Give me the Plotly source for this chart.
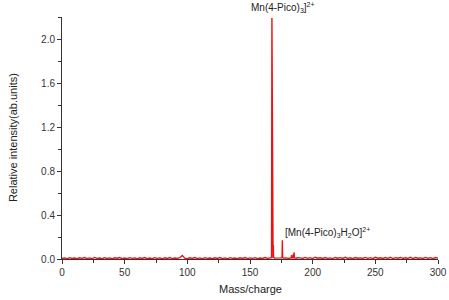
import plotly.graph_objects as go

# Baseline noise samples (every 2 units of mass/charge)
base_mz_left = [0, 2, 4, 6, 8, 10, 12, 14, 16, 18, 20, 22, 24, 26, 28, 30, 32, 34, 36, 38,
                40, 42, 44, 46, 48, 50, 52, 54, 56, 58, 60, 62, 64, 66, 68, 70, 72, 74, 76, 78,
                80, 82, 84, 86, 88, 90, 92, 94, 96, 98, 100, 102, 104, 106, 108, 110, 112, 114,
                116, 118, 120, 122, 124, 126, 128, 130, 132, 134, 136, 138, 140, 142, 144, 146,
                148, 150, 152, 154, 156, 158, 160, 162, 164]
base_int_left = [0.004, 0.010, 0.002, 0.012, 0.005, 0.009, 0.003, 0.011, 0.006, 0.013, 0.004,
                 0.010, 0.002, 0.014, 0.006, 0.009, 0.003, 0.012, 0.005, 0.010, 0.002, 0.011,
                 0.007, 0.013, 0.004, 0.009, 0.003, 0.012, 0.006, 0.010, 0.002, 0.011, 0.005,
                 0.013, 0.004, 0.009, 0.003, 0.012, 0.006, 0.010, 0.002, 0.011, 0.005, 0.013,
                 0.004, 0.009, 0.006, 0.012, 0.032, 0.008, 0.003, 0.011, 0.005, 0.013, 0.004,
                 0.010, 0.002, 0.012, 0.006, 0.009, 0.003, 0.011, 0.005, 0.013, 0.004, 0.010,
                 0.002, 0.012, 0.006, 0.009, 0.003, 0.011, 0.005, 0.013, 0.004, 0.010, 0.006,
                 0.012, 0.003, 0.009, 0.005, 0.013, 0.006]
base_mz_right = [190, 192, 194, 196, 198, 200, 202, 204, 206, 208, 210, 212, 214, 216, 218,
                 220, 222, 224, 226, 228, 230, 232, 234, 236, 238, 240, 242, 244, 246, 248,
                 250, 252, 254, 256, 258, 260, 262, 264, 266, 268, 270, 272, 274, 276, 278,
                 280, 282, 284, 286, 288, 290, 292, 294, 296, 298, 300]
base_int_right = [0.010, 0.005, 0.014, 0.006, 0.012, 0.004, 0.016, 0.007, 0.011, 0.005, 0.013,
                  0.006, 0.010, 0.004, 0.014, 0.007, 0.012, 0.005, 0.015, 0.006, 0.011, 0.004,
                  0.013, 0.007, 0.010, 0.005, 0.014, 0.006, 0.012, 0.004, 0.015, 0.007, 0.011,
                  0.005, 0.013, 0.006, 0.016, 0.004, 0.012, 0.007, 0.014, 0.005, 0.011, 0.006,
                  0.015, 0.004, 0.013, 0.007, 0.010, 0.005, 0.014, 0.006, 0.012, 0.004, 0.013,
                  0.008]

# Main peak region
peak_mz = [166.0, 167.2, 167.5, 167.8, 168.4, 168.6, 168.8, 169.6, 172.0, 174.5, 175.6,
           175.8, 176.0, 176.8, 178.5, 181.0, 182.5, 183.0, 183.2, 183.4, 184.4, 184.6,
           184.8, 185.0, 185.2, 185.4, 187.0, 188.0]
peak_int = [0.008, 0.012, 2.19, 0.015, 0.012, 0.127, 0.015, 0.008, 0.006, 0.010, 0.012,
            0.170, 0.012, 0.008, 0.010, 0.006, 0.010, 0.012, 0.035, 0.010, 0.012, 0.045,
            0.015, 0.012, 0.060, 0.010, 0.007, 0.012]

pts = sorted(zip(base_mz_left + peak_mz + base_mz_right,
                 base_int_left + peak_int + base_int_right))
mz = [p[0] for p in pts]
inten = [p[1] for p in pts]

fig = go.Figure()
fig.add_trace(go.Scatter(x=mz, y=inten, mode="lines",
                         line=dict(color="#f01010", width=1.4), showlegend=False))

fam = "Liberation Sans, Arial, sans-serif"

fig.update_layout(
    width=449, height=300,
    margin=dict(l=62, r=11, t=17, b=41, autoexpand=False),
    plot_bgcolor="white", paper_bgcolor="white",
    font=dict(family=fam, color="#222", size=10),
    xaxis=dict(range=[0, 300], tickvals=[0, 50, 100, 150, 200, 250, 300], automargin=False,
               showline=True, linecolor="#333", linewidth=1,
               ticks="outside", ticklen=4, tickcolor="#333", showgrid=False, zeroline=False,
               minor=dict(tickvals=[25, 75, 125, 175, 225, 275], ticks="outside", ticklen=3,
                          tickcolor="#333", showgrid=False),
               tickfont=dict(size=10, color="#333")),
    yaxis=dict(range=[0, 2.2], tickvals=[0, 0.4, 0.8, 1.2, 1.6, 2.0], automargin=False,
               ticktext=["0.0", "0.4", "0.8", "1.2", "1.6", "2.0"],
               showline=True, linecolor="#333", linewidth=1,
               ticks="outside", ticklen=4, tickcolor="#333", showgrid=False, zeroline=False,
               minor=dict(tickvals=[0.2, 0.6, 1.0, 1.4, 1.8, 2.2], ticks="outside", ticklen=3,
                          tickcolor="#333", showgrid=False),
               tickfont=dict(size=10, color="#333")),
)

# Axis titles
fig.add_annotation(x=150, y=-0.124, xref="x", yref="paper", text="Mass/charge",
                   showarrow=False, font=dict(size=11, color="#222"),
                   xanchor="center", yanchor="middle")
fig.add_annotation(x=-0.13, y=0.5, xref="paper", yref="paper", text="Relative intensity(ab.units)",
                   textangle=-90, showarrow=False, font=dict(size=11, color="#222"),
                   xanchor="center", yanchor="middle")

# Peak labels
fig.add_annotation(x=176, y=1, xref="x", yref="paper", yanchor="bottom", xanchor="center",
                   text="Mn(4-Pico)<sub>3</sub>]<sup>2+</sup>", showarrow=False,
                   font=dict(size=10, color="#222"), yshift=1)
fig.add_annotation(x=176.3, y=0.245, xref="x", yref="y", xanchor="left", yanchor="middle",
                   text="[Mn(4-Pico)<sub>3</sub>H<sub>2</sub>O]<sup>2+</sup>", showarrow=False,
                   font=dict(size=10, color="#222"))

fig.write_html("out.html")
